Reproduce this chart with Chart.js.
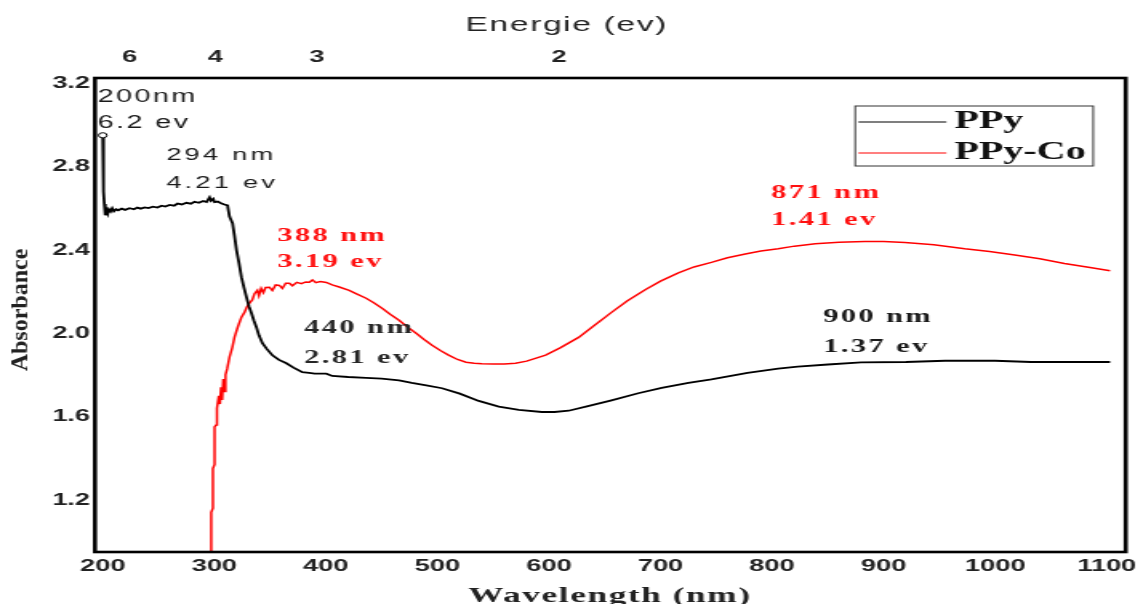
<!DOCTYPE html>
<html>
<head>
<meta charset="utf-8">
<title>PPy / PPy-Co absorbance</title>
<script src="https://cdn.jsdelivr.net/npm/chart.js@4.4.1/dist/chart.umd.min.js"></script>
<style>
  html, body { margin: 0; padding: 0; background: #fff; overflow: hidden; }
  /* the figure is drawn narrow and widened, so text and strokes come out broad */
  #wrap { width: 714px; height: 604px; transform: scaleX(1.6008); transform-origin: 0 0; }
</style>
</head>
<body>
<div id="wrap"><canvas id="absChart" width="714" height="604"></canvas></div>
<script>
// Wavelength axis (nm) and absorbance axis
const xTicks = [200, 300, 400, 500, 600, 700, 800, 900, 1000, 1100];
const yTicks = [1.2, 1.6, 2.0, 2.4, 2.8, 3.2];

// Energy axis on top: labels and where they sit on the wavelength scale
const energyLabels = ['6', '4', '3', '2'];
const energyTickNm = [224, 301, 392, 609];

// PPy spectrum
const ppyNm = [
  200, 200.4, 200.9, 201.4, 202, 202.5, 203.5, 204.5, 205.5, 207, 208.5, 210, 212, 214, 217, 220,
  224, 228, 231, 234, 237.6, 241, 245, 249, 252.8, 256, 260, 264, 267.1, 271, 275, 279,
  282.3, 286, 290, 293, 295.7, 297, 299, 300.2, 303, 306, 309, 311.8, 313.6, 316.3, 318, 319.9,
  322, 324.3, 326.5, 328.8, 331, 333.3, 335.5, 337.7, 340, 343.1, 347, 352.1, 358, 364.6,
  371, 378.9, 385, 390, 400.4, 405.7, 420, 436.1, 450, 465.6, 477, 490, 504.1, 520,
  537, 555, 573, 593.6, 605, 617.7, 635, 656, 680, 701, 725, 745.6, 778, 805.5,
  823, 850, 879.8, 920, 955, 1000, 1032, 1070, 1103
];
const ppyAbs = [
  2.95, 2.80, 2.68, 2.62, 2.58, 2.566, 2.59, 2.575, 2.595, 2.585, 2.60, 2.585, 2.595, 2.59, 2.598, 2.592,
  2.60, 2.595, 2.603, 2.598, 2.604, 2.601, 2.607, 2.603, 2.612, 2.608, 2.616, 2.612, 2.622, 2.618, 2.626, 2.622,
  2.631, 2.626, 2.635, 2.630, 2.652, 2.636, 2.645, 2.629, 2.632, 2.624, 2.618, 2.614, 2.56, 2.528, 2.47, 2.398,
  2.34, 2.269, 2.22, 2.173, 2.13, 2.096, 2.06, 2.029, 1.99, 1.952, 1.925, 1.894, 1.872, 1.856,
  1.835, 1.813, 1.81, 1.806, 1.806, 1.795, 1.79, 1.786, 1.782, 1.774, 1.762, 1.75, 1.736, 1.71,
  1.675, 1.648, 1.632, 1.622, 1.622, 1.628, 1.65, 1.678, 1.712, 1.738, 1.762, 1.778, 1.81, 1.83,
  1.84, 1.85, 1.86, 1.862, 1.868, 1.868, 1.862, 1.862, 1.862
];

// PPy-Co spectrum
const ppyCoNm = [
  297, 297.2, 298.7, 298.7, 300.2, 300.2, 301.7, 301.7, 303, 304, 305, 306, 307, 308, 309, 310,
  311.5, 313.6, 316, 318.1, 321, 324.3, 327, 329, 331.5, 334, 336, 338.6, 340, 342, 344, 346,
  349.4, 352, 355, 358.3, 361, 364, 367.3, 370, 374, 378, 382, 385.2, 388, 391, 395, 400.4,
  405.7, 412, 420.9, 428, 436.1, 443, 450.4, 458, 465.6, 473, 480.9, 488, 495.2, 503,
  510.4, 518, 525.6, 533, 539.9, 550, 560, 570, 580, 597, 610, 626.6, 640, 656,
  670, 686.6, 700, 716, 730, 745.6, 760, 776, 790, 805.5, 820, 838.6, 860, 883,
  900, 919, 945, 972.8, 995, 1017.5, 1040, 1062, 1085, 1103
];
const ppyCoAbs = [
  0.90, 1.14, 1.16, 1.35, 1.37, 1.55, 1.56, 1.615, 1.64, 1.70, 1.66, 1.74, 1.68, 1.78, 1.72, 1.80,
  1.83, 1.885, 1.93, 1.981, 2.03, 2.077, 2.10, 2.125, 2.144, 2.16, 2.19, 2.206, 2.18, 2.215, 2.195, 2.22,
  2.221, 2.205, 2.232, 2.23, 2.215, 2.24, 2.24, 2.228, 2.244, 2.238, 2.246, 2.245, 2.256, 2.243, 2.248, 2.244,
  2.232, 2.222, 2.206, 2.188, 2.168, 2.146, 2.12, 2.09, 2.062, 2.03, 2.0, 1.97, 1.942, 1.916,
  1.894, 1.874, 1.861, 1.856, 1.853, 1.852, 1.852, 1.856, 1.866, 1.895, 1.93, 1.98, 2.035, 2.10,
  2.155, 2.21, 2.25, 2.29, 2.318, 2.34, 2.362, 2.38, 2.395, 2.405, 2.418, 2.43, 2.437, 2.44,
  2.44, 2.435, 2.425, 2.405, 2.392, 2.375, 2.357, 2.335, 2.315, 2.30
];

const seriesNames = ['PPy', 'PPy-Co'];
const seriesColors = ['#000000', '#ff0000'];

// Peak labels, anchored in data units (left edge, one entry per text line)
const peakNotes = [
  { lines: ['200nm', '6.2 ev'], nm: 195.5, abs: [3.133, 3.008], color: '#1a1a1a', font: '18px "Liberation Sans"', spacing: '1.5px' },
  { lines: ['294 nm', '4.21 ev'], nm: 257, abs: [2.854, 2.72], color: '#1a1a1a', font: '17px "Liberation Sans"', spacing: '2px' },
  { lines: ['388 nm', '3.19 ev'], nm: 356.5, abs: [2.465, 2.34], color: '#ff1010', font: 'bold 19px "Liberation Serif"', spacing: '1.5px' },
  { lines: ['440 nm', '2.81 ev'], nm: 380.7, abs: [2.024, 1.88], color: '#262626', font: 'bold 19px "Liberation Serif"', spacing: '1.5px' },
  { lines: ['871 nm', '1.41 ev'], nm: 799.3, abs: [2.672, 2.542], color: '#ff1010', font: 'bold 19px "Liberation Serif"', spacing: '1.5px' },
  { lines: ['900 nm', '1.37 ev'], nm: 845.8, abs: [2.077, 1.933], color: '#1a1a1a', font: 'bold 19px "Liberation Serif"', spacing: '1.5px' }
];

const tickFont = { family: '"Liberation Sans", Arial, sans-serif', size: 17, weight: 'bold' };

function toPoints(xs, ys) {
  return xs.map((x, i) => ({ x: x, y: ys[i] }));
}

// Frame, legend box, axis titles and peak labels
const decorPlugin = {
  id: 'decor',
  afterDraw(chart) {
    const ctx = chart.ctx;
    const area = chart.chartArea;
    const xs = chart.scales.x;
    const ys = chart.scales.y;

    ctx.save();
    ctx.strokeStyle = '#000';
    ctx.lineWidth = 2.6;
    ctx.strokeRect(area.left, area.top, area.right - area.left, area.bottom - area.top);

    // legend
    const bx = area.right - 169;
    const by = area.top + 28;
    ctx.lineWidth = 1;
    ctx.strokeStyle = '#333';
    ctx.strokeRect(bx, by, 148.7, 60);
    const rowY = [by + 16, by + 47];
    ctx.font = 'bold 25px "Liberation Serif", "Times New Roman", serif';
    ctx.textAlign = 'left';
    ctx.textBaseline = 'alphabetic';
    chart.data.datasets.forEach((ds, i) => {
      ctx.strokeStyle = ds.borderColor;
      ctx.lineWidth = 1.2;
      ctx.beginPath();
      ctx.moveTo(bx + 2, rowY[i]);
      ctx.lineTo(bx + 57, rowY[i]);
      ctx.stroke();
      ctx.fillStyle = '#111';
      ctx.fillText(ds.label, bx + 62, rowY[i] + 6);
    });

    // axis titles
    ctx.fillStyle = '#222';
    ctx.textAlign = 'center';
    ctx.textBaseline = 'middle';
    ctx.letterSpacing = '1px';
    ctx.font = '21px "Liberation Sans", Arial, sans-serif';
    ctx.fillText('Energie (ev)', 354, 25);

    ctx.textBaseline = 'alphabetic';
    ctx.font = 'bold 22px "Liberation Serif", "Times New Roman", serif';
    ctx.fillText('Wavelength (nm)', 381, 602);

    ctx.save();
    ctx.translate(13, 310);
    ctx.rotate(-Math.PI / 2);
    ctx.scale(1, 0.6);
    ctx.textBaseline = 'middle';
    ctx.letterSpacing = '0px';
    ctx.font = 'bold 24px "Liberation Serif", "Times New Roman", serif';
    ctx.fillText('Absorbance', 0, 0);
    ctx.restore();

    // peak labels
    ctx.textAlign = 'left';
    ctx.textBaseline = 'middle';
    peakNotes.forEach(note => {
      ctx.font = note.font;
      ctx.fillStyle = note.color;
      ctx.letterSpacing = note.spacing;
      const px = xs.getPixelForValue(note.nm);
      note.lines.forEach((line, i) => {
        ctx.fillText(line, px, ys.getPixelForValue(note.abs[i]));
      });
    });
    ctx.restore();
  }
};

const absChart = new Chart(document.getElementById('absChart'), {
  type: 'line',
  data: {
    datasets: [
      {
        label: seriesNames[0],
        data: toPoints(ppyNm, ppyAbs),
        borderColor: seriesColors[0],
        borderWidth: 1.8,
        pointRadius: ctx => (ctx.dataIndex === 0 ? 2.6 : 0),
        pointBackgroundColor: '#fff',
        pointBorderColor: '#000',
        pointBorderWidth: 1,
        tension: 0
      },
      {
        label: seriesNames[1],
        data: toPoints(ppyCoNm, ppyCoAbs),
        borderColor: seriesColors[1],
        borderWidth: 1.5,
        pointRadius: 0,
        tension: 0
      }
    ]
  },
  options: {
    responsive: false,
    animation: false,
    layout: { padding: { left: 0, right: 10, top: 0, bottom: 0 } },
    plugins: {
      legend: { display: false },
      tooltip: { enabled: false }
    },
    scales: {
      x: {
        type: 'linear',
        position: 'bottom',
        min: 193,
        max: 1117,
        afterBuildTicks: axis => { axis.ticks = xTicks.map(v => ({ value: v })); },
        afterFit: axis => { axis.height = 52; },
        grid: { display: false, drawTicks: false },
        border: { display: false },
        ticks: {
          autoSkip: false,
          maxRotation: 0,
          padding: 4,
          color: '#222',
          font: tickFont,
          callback: value => String(value)
        }
      },
      x2: {
        type: 'linear',
        position: 'top',
        min: 193,
        max: 1117,
        afterBuildTicks: axis => { axis.ticks = energyTickNm.map(v => ({ value: v })); },
        afterFit: axis => { axis.height = 78; },
        grid: { display: false, drawTicks: false },
        border: { display: false },
        ticks: {
          autoSkip: false,
          maxRotation: 0,
          padding: 10,
          color: '#222',
          font: tickFont,
          callback: (value, index) => energyLabels[index]
        }
      },
      y: {
        type: 'linear',
        min: 0.95,
        max: 3.225,
        afterBuildTicks: axis => { axis.ticks = yTicks.map(v => ({ value: v })); },
        afterFit: axis => { axis.width = 59.3; },
        grid: { display: false, drawTicks: false },
        border: { display: false },
        ticks: {
          padding: 3,
          color: '#222',
          font: tickFont,
          callback: value => value.toFixed(1)
        }
      }
    }
  },
  plugins: [decorPlugin]
});
</script>
</body>
</html>
